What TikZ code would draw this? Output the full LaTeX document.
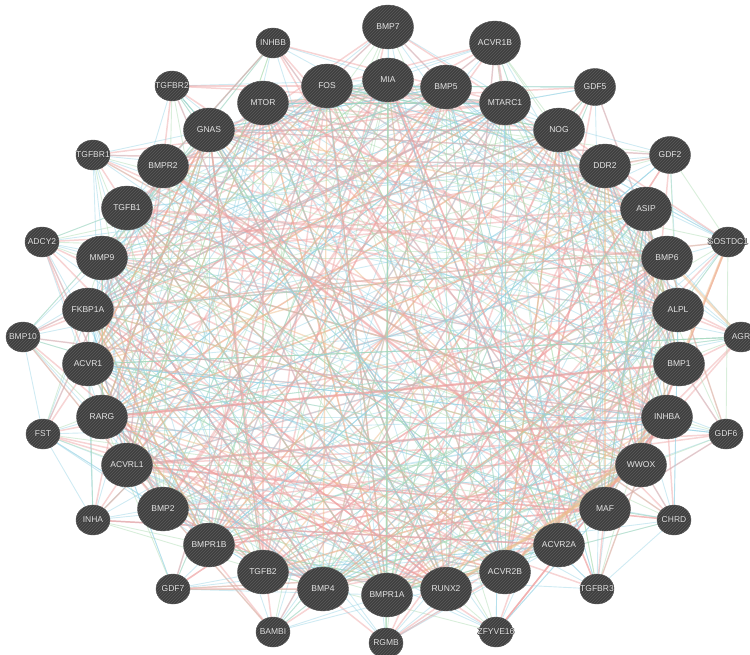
\documentclass[tikz,border=0pt]{standalone}
\usepackage{fontspec}
\setmainfont{Liberation Sans}
\usetikzlibrary{shapes.geometric,patterns,backgrounds}
\definecolor{geneFill}{RGB}{62,62,62}
\definecolor{geneStripe}{RGB}{92,92,92}
\definecolor{geneText}{RGB}{228,228,228}
\definecolor{linkPink}{RGB}{238,160,160}
\definecolor{linkBlue}{RGB}{150,210,228}
\definecolor{linkGreen}{RGB}{170,218,175}
\definecolor{linkOrange}{RGB}{238,190,140}

% dark outline round labels that run past a small node
\newcommand{\halotext}[1]{\makebox[0pt]{%
  \makebox[0pt][l]{\kern-.7pt\color{geneFill}#1}%
  \makebox[0pt][l]{\kern.7pt\color{geneFill}#1}%
  \makebox[0pt][l]{\raisebox{.7pt}{\color{geneFill}#1}}%
  \makebox[0pt][l]{\raisebox{-.7pt}{\color{geneFill}#1}}%
  #1}}

\tikzset{
  gene/.style={ellipse,draw=geneFill!85!white,line width=.4pt,preaction={fill=geneFill},
    pattern=north east lines,pattern color=geneStripe,text=geneText,
    font=\fontsize{8.5}{9}\selectfont,inner sep=0pt,minimum width=51pt,minimum height=44pt},
  smallgene/.style={gene,minimum width=34pt,minimum height=30pt},
  midgene/.style={gene,minimum width=41pt,minimum height=37pt},
  pinklink/.style={draw=linkPink,line width=1.5pt,opacity=.45},
  bluelink/.style={draw=linkBlue,line width=.9pt,opacity=.45},
  greenlink/.style={draw=linkGreen,line width=.9pt,opacity=.45},
  orangelink/.style={draw=linkOrange,line width=1.3pt,opacity=.5},
}

\begin{document}
\begin{tikzpicture}[x=1pt,y=-1pt]
\useasboundingbox (0,0) rectangle (750,654);

% inner ring
\node[gene,alias=v0]  (MIA)    at (388,80)  {MIA};
\node[gene,alias=v1]  (BMP5)   at (446,87)  {BMP5};
\node[gene,alias=v2]  (MTARC1) at (505,103) {MTARC1};
\node[gene,alias=v3]  (NOG)    at (559,130) {NOG};
\node[gene,alias=v4]  (DDR2)   at (605,166) {DDR2};
\node[gene,alias=v5]  (ASIP)   at (646,209) {ASIP};
\node[gene,alias=v6]  (BMP6)   at (667,258) {BMP6};
\node[gene,alias=v7]  (ALPL)   at (678,310) {ALPL};
\node[gene,alias=v8]  (BMP1)   at (679,364) {BMP1};
\node[gene,alias=v9]  (INHBA)  at (667,417) {INHBA};
\node[gene,alias=v10] (WWOX)   at (641,465) {WWOX};
\node[gene,alias=v11] (MAF)    at (605,509) {MAF};
\node[gene,alias=v12] (ACVR2A) at (559,545) {ACVR2A};
\node[gene,alias=v13] (ACVR2B) at (505,572) {ACVR2B};
\node[gene,alias=v14] (RUNX2)  at (446,589) {RUNX2};
\node[gene,alias=v15] (BMPR1A) at (387,595) {BMPR1A};
\node[gene,alias=v16] (BMP4)   at (323,589) {BMP4};
\node[gene,alias=v17] (TGFB2)  at (263,572) {TGFB2};
\node[gene,alias=v18] (BMPR1B) at (209,545) {BMPR1B};
\node[gene,alias=v19] (BMP2)   at (163,509) {BMP2};
\node[gene,alias=v20] (ACVRL1) at (127,465) {ACVRL1};
\node[gene,alias=v21] (RARG)   at (102,417) {RARG};
\node[gene,alias=v22] (ACVR1)  at (88,364)  {ACVR1};
\node[gene,alias=v23] (FKBP1A) at (88,310)  {FKBP1A};
\node[gene,alias=v24] (MMP9)   at (102,258) {MMP9};
\node[gene,alias=v25] (TGFB1)  at (127,208) {TGFB1};
\node[gene,alias=v26] (BMPR2)  at (163,166) {BMPR2};
\node[gene,alias=v27] (GNAS)   at (209,130) {GNAS};
\node[gene,alias=v28] (MTOR)   at (263,103) {MTOR};
\node[gene,alias=v29] (FOS)    at (327,86)  {FOS};

% outer ring
\node[gene,alias=v30]      (BMP7)    at (388,27)  {BMP7};
\node[gene,alias=v31]      (ACVR1B)  at (495,43)  {ACVR1B};
\node[midgene,alias=v32]   (GDF5)    at (595,87)  {GDF5};
\node[midgene,alias=v33]   (GDF2)    at (670,155) {GDF2};
\node[smallgene,alias=v34] (SOSTDC1) at (728,242) {\halotext{SOSTDC1}};
\node[smallgene,alias=v35] (AGR)     at (741,337) {\halotext{AGR}};
\node[smallgene,alias=v36] (GDF6)    at (726,434) {\halotext{GDF6}};
\node[smallgene,alias=v37] (CHRD)    at (674,520) {\halotext{CHRD}};
\node[smallgene,alias=v38] (TGFBR3)  at (597,589) {\halotext{TGFBR3}};
\node[smallgene,alias=v39] (ZFYVE16) at (496,632) {\halotext{ZFYVE16}};
\node[smallgene,alias=v40] (RGMB)    at (386,643) {\halotext{RGMB}};
\node[smallgene,alias=v41] (BAMBI)   at (273,632) {\halotext{BAMBI}};
\node[smallgene,alias=v42] (GDF7)    at (173,589) {\halotext{GDF7}};
\node[smallgene,alias=v43] (INHA)    at (93,520)  {\halotext{INHA}};
\node[smallgene,alias=v44] (FST)     at (43,434)  {\halotext{FST}};
\node[smallgene,alias=v45] (BMP10)   at (23,337)  {\halotext{BMP10}};
\node[smallgene,alias=v46] (ADCY2)   at (42,242)  {\halotext{ADCY2}};
\node[smallgene,alias=v47] (TGFBR1)  at (93,155)  {\halotext{TGFBR1}};
\node[smallgene,alias=v48] (TGFBR2)  at (172,86)  {\halotext{TGFBR2}};
\node[smallgene,alias=v49] (INHBB)   at (273,43)  {\halotext{INHBB}};

\begin{scope}[on background layer]
\pgfmathsetseed{4711}
% chords between inner genes
\foreach \k in {1,...,160}{
  \pgfmathrandominteger{\a}{0}{29}
  \pgfmathrandominteger{\s}{3}{27}
  \pgfmathtruncatemacro{\b}{mod(\a+\s,30)}
  \draw[pinklink] (v\a) -- (v\b);
}
\foreach \k in {1,...,170}{
  \pgfmathrandominteger{\a}{0}{29}
  \pgfmathrandominteger{\s}{3}{27}
  \pgfmathtruncatemacro{\b}{mod(\a+\s,30)}
  \draw[bluelink] (v\a) -- (v\b);
}
\foreach \k in {1,...,100}{
  \pgfmathrandominteger{\a}{0}{29}
  \pgfmathrandominteger{\s}{3}{27}
  \pgfmathtruncatemacro{\b}{mod(\a+\s,30)}
  \draw[greenlink] (v\a) -- (v\b);
}
\foreach \k in {1,...,45}{
  \pgfmathrandominteger{\a}{0}{29}
  \pgfmathrandominteger{\s}{3}{27}
  \pgfmathtruncatemacro{\b}{mod(\a+\s,30)}
  \draw[orangelink] (v\a) -- (v\b);
}
% fans from the outer genes
\foreach \o in {30,...,49}{
  \foreach \k in {1,...,8}{
    \pgfmathrandominteger{\t}{0}{29}
    \draw[bluelink] (v\o) -- (v\t);
  }
  \foreach \k in {1,...,4}{
    \pgfmathrandominteger{\t}{0}{29}
    \draw[greenlink] (v\o) -- (v\t);
  }
  \foreach \k in {1,...,5}{
    \pgfmathrandominteger{\t}{0}{29}
    \draw[pinklink] (v\o) -- (v\t);
  }
}
% heavier ones
\draw[orangelink,line width=3pt] (INHBA) -- (ACVR2B);
\draw[orangelink,line width=3pt] (WWOX) -- (RUNX2);
\draw[orangelink,line width=2.5pt] (BMP6) -- (AGR);
\draw[orangelink,line width=2.5pt] (SOSTDC1) -- (BMP1);
\draw[pinklink,line width=2.5pt] (INHBA) -- (ACVRL1);
\draw[pinklink,line width=2.5pt] (BMP1) -- (RARG);
\draw[pinklink,line width=2.5pt] (TGFB1) -- (BMP6);
\draw[pinklink,line width=2.5pt] (BMPR2) -- (MAF);
\draw[pinklink,line width=2.5pt] (ACVR1B) -- (MTARC1);
\draw[pinklink,line width=2.5pt] (BMP5) -- (BMP2);
\draw[pinklink,line width=2.5pt] (MTOR) -- (ACVR2A);
\draw[greenlink] (SOSTDC1) -- (GDF6);
\draw[greenlink] (GDF2) -- (SOSTDC1);
\draw[bluelink] (FST) -- (INHA);
\draw[bluelink] (BMP10) -- (FST);
\draw[bluelink] (CHRD) -- (TGFBR3);
\draw[pinklink] (INHBA) -- (CHRD);
\end{scope}
\end{tikzpicture}
\end{document}
